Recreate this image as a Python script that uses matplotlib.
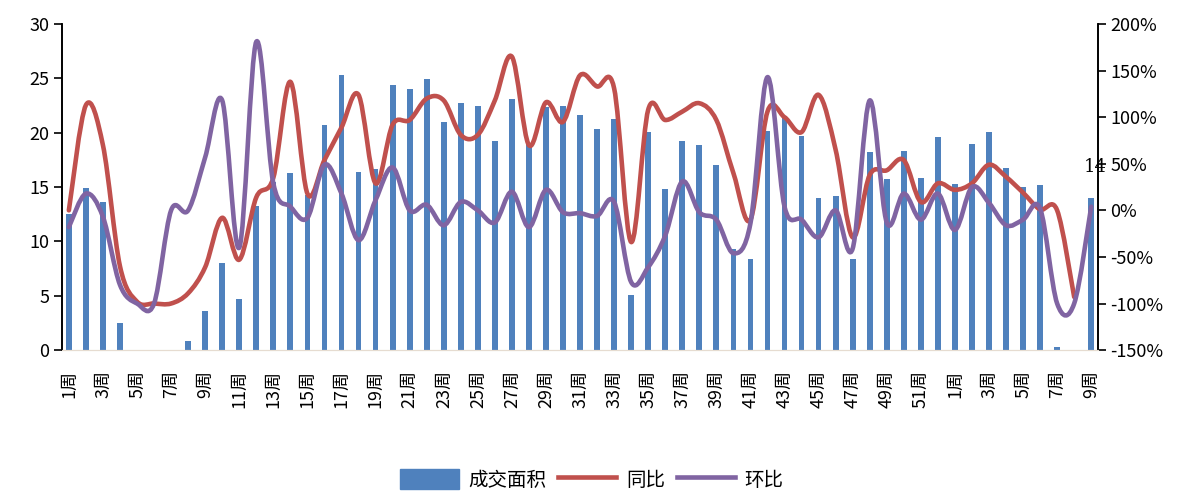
import numpy as np
import matplotlib
matplotlib.use("Agg")
import matplotlib.pyplot as plt
from matplotlib.path import Path
from matplotlib.patches import PathPatch, Patch
from matplotlib.lines import Line2D

plt.rcParams['font.family'] = ['Noto Sans CJK SC', 'DejaVu Sans']

# 周次：2017年第1-52周 + 2018年第1-9周
weeks = list(range(1, 53)) + list(range(1, 10))
labels = [f"{w}周" for w in weeks]

# 成交面积（左轴）
area = [12.5, 14.9, 13.6, 2.5, 0, 0, 0, 0.8, 3.6, 8.0,
        4.7, 13.3, 15.5, 16.3, 14.3, 20.7, 25.3, 16.4, 16.7, 24.4,
        24.0, 24.9, 21.0, 22.7, 22.5, 19.2, 23.1, 19.0, 22.4, 22.5,
        21.6, 20.3, 21.3, 5.1, 20.1, 14.8, 19.2, 18.9, 17.0, 9.3,
        8.4, 20.2, 21.5, 19.7, 14.0, 14.2, 8.4, 18.2, 15.7, 18.3,
        15.8, 19.6, 15.3, 19.0, 20.1, 16.8, 15.0, 15.2, 0.3, 0,
        14.0]

# 同比 %（右轴），最后一周无数据
yoy = [0, 113, 70, -60, -98, -100, -100, -89, -61, -8,
       -53, 14, 35, 138, 18, 54, 89, 124, 29, 92,
       97, 120, 118, 81, 81, 118, 165, 70, 116, 95,
       145, 133, 131, -34, 108, 97, 106, 115, 97, 40,
       -10, 106, 100, 84, 124, 65, -29, 38, 43, 54,
       9, 29, 22, 29, 49, 36, 19, 1, 0, -93]

# 环比 %（右轴）
mom = [-18, 18, -7, -80, -100, -100, 0, 0, 57, 118,
       -40, 181, 29, 4, -8, 49, 18, -32, 11, 46,
       0, 6, -16, 9, 0, -13, 20, -18, 22, -2,
       -3, -6, 9, -77, -61, -27, 31, -2, -10, -46,
       -14, 143, 4, -10, -29, 0, -41, 118, -13, 18,
       -10, 18, -21, 25, 8, -16, -10, 2, -100, -100,
       4]

c_bar = '#4F81BD'
c_red = '#C0504D'
c_pur = '#8064A2'


def smooth_path(xs, ys):
    # 类似Excel平滑线：Catmull-Rom 转 三次贝塞尔
    pts = np.column_stack([xs, ys]).astype(float)
    n = len(pts)
    verts = [pts[0]]
    codes = [Path.MOVETO]
    for i in range(n - 1):
        p0 = pts[i - 1] if i > 0 else pts[i]
        p1 = pts[i]
        p2 = pts[i + 1]
        p3 = pts[i + 2] if i + 2 < n else pts[i + 1]
        verts += [p1 + (p2 - p0) / 6, p2 - (p3 - p1) / 6, p2]
        codes += [Path.CURVE4] * 3
    return Path(verts, codes)


fig = plt.figure(figsize=(11.84, 4.91), dpi=100)
ax = fig.add_axes([0.0524, 0.287, 0.875, 0.664])
ax2 = ax.twinx()

x = np.arange(len(weeks))
bars = ax.bar(x, area, width=0.34, color=c_bar, zorder=1)
ax.set_xlim(-0.4, len(weeks) - 0.6)
ax.set_ylim(0, 30)
ax.set_yticks(range(0, 31, 5))

ax2.add_patch(PathPatch(smooth_path(x[:len(yoy)], yoy), fill=False,
                        edgecolor=c_red, lw=3.3, capstyle='round', joinstyle='round'))
ax2.add_patch(PathPatch(smooth_path(x, mom), fill=False,
                        edgecolor=c_pur, lw=3.3, capstyle='round', joinstyle='round'))
ax2.set_ylim(-150, 200)
ax2.set_yticks(range(-150, 201, 50))
ax2.set_yticklabels([f"{v}%" for v in range(-150, 201, 50)])

ax.set_xticks(x[::2])
ax.set_xticklabels(labels[::2], rotation=90, fontsize=13, va='top', ha='center')
ax.tick_params(axis='x', length=0, pad=14)
ax.tick_params(axis='y', direction='out', length=6, width=1.2, labelsize=13, pad=3)
ax2.tick_params(axis='y', direction='out', length=6, width=1.2, labelsize=13, pad=3)

for a in (ax, ax2):
    a.spines['top'].set_visible(False)
    a.spines['bottom'].set_color('#e6dcd0')
    a.spines['left'].set_linewidth(1.2)
    a.spines['right'].set_linewidth(1.2)

# 最后一根柱子的数据标签
ax.annotate(f"{area[-1]:g}", (x[-1], area[-1]), xytext=(3, 16), textcoords='offset points',
            ha='center', va='bottom', fontsize=13, family='DejaVu Serif')

handles = [Patch(color=c_bar), Line2D([], [], color=c_red, lw=3.3),
           Line2D([], [], color=c_pur, lw=3.3)]
fig.legend(handles, ['成交面积', '同比', '环比'], loc='lower center',
           bbox_to_anchor=(0.5, -0.035), ncol=3, frameon=False, fontsize=14,
           handlelength=3.0, handleheight=1.2, handletextpad=0.5, columnspacing=0.6)

fig.savefig('out.png', dpi=100)
